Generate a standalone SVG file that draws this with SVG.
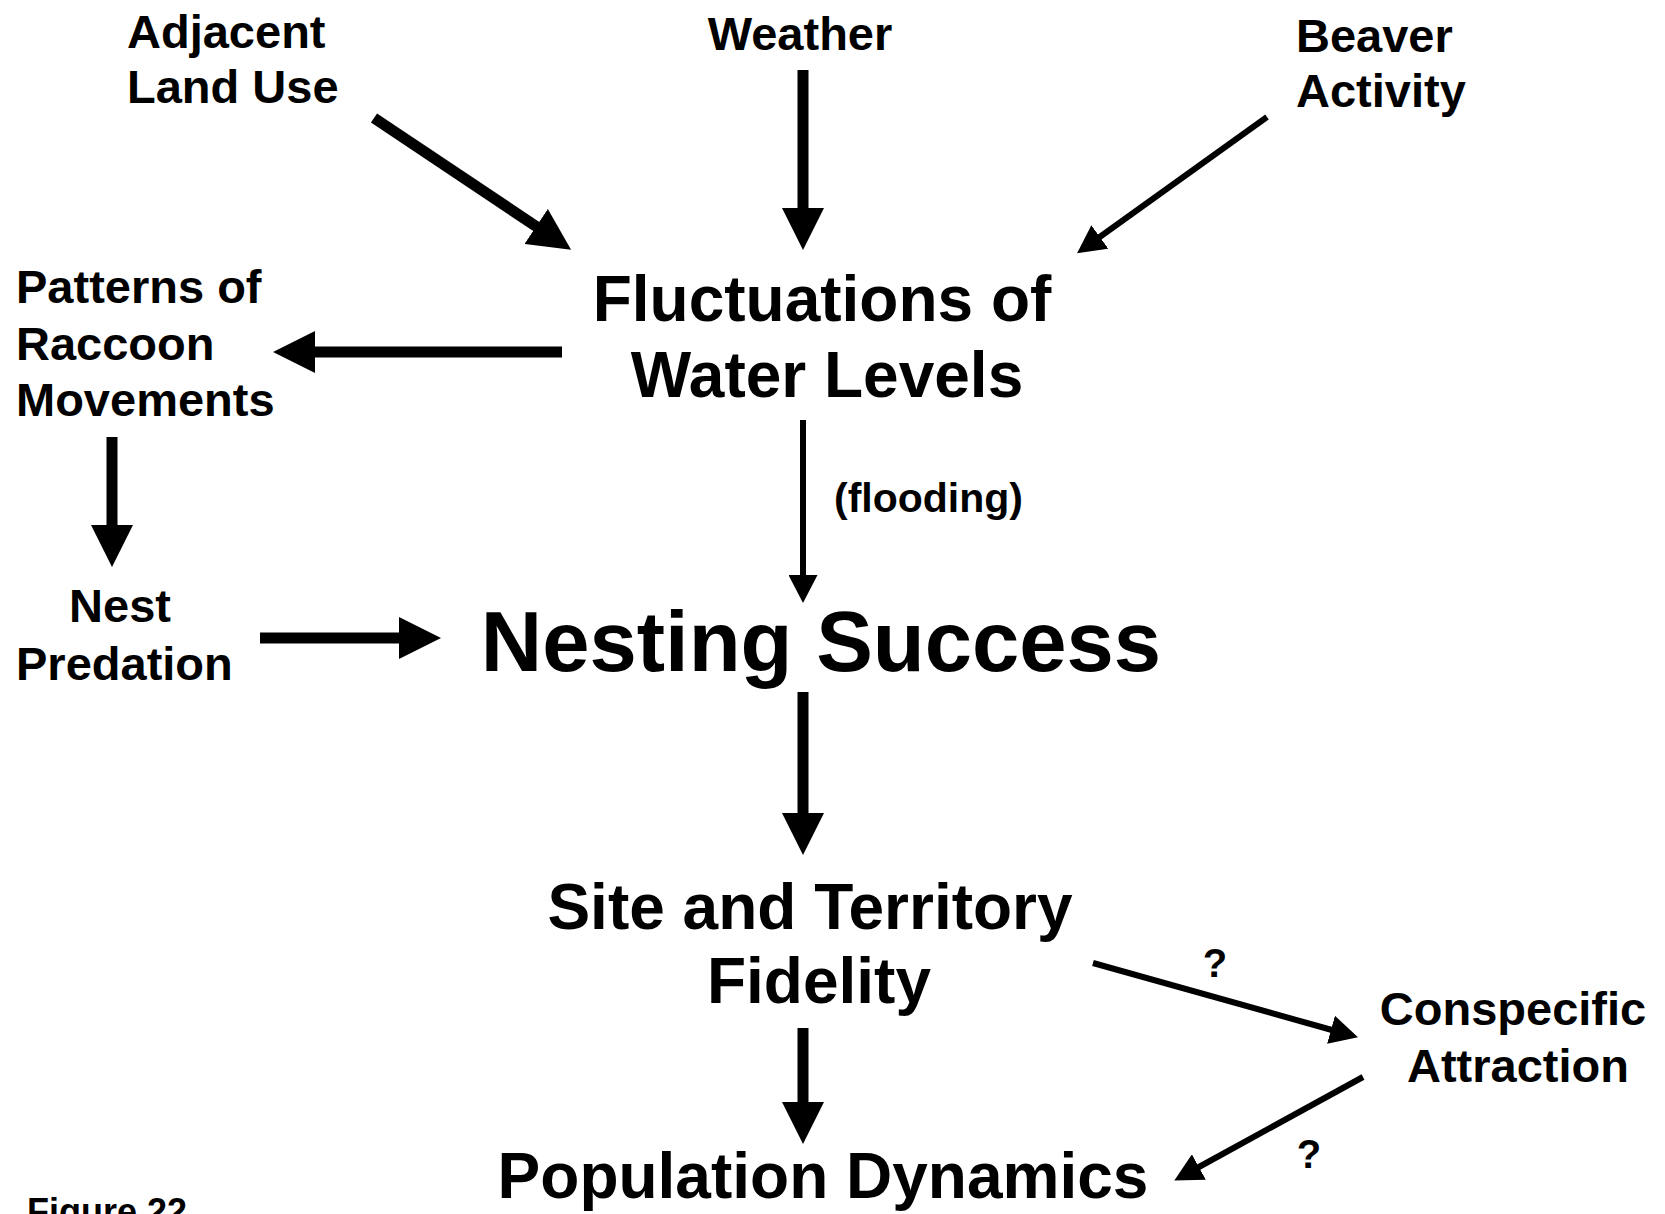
<svg xmlns="http://www.w3.org/2000/svg" width="1665" height="1214" viewBox="0 0 1665 1214">
<style>
text{font-family:"Liberation Sans",Arial,Helvetica,sans-serif;font-weight:bold;fill:#000}
.s{font-size:47px}
.m{font-size:64px}
.l{font-size:85px}
.f{font-size:41px}
.q{font-size:40px}
.c{text-anchor:middle}
.thick{stroke:#000;stroke-width:11;fill:none;marker-end:url(#hk)}
.thin{stroke:#000;stroke-width:6;fill:none;marker-end:url(#hn)}
</style>
<defs>
<marker id="hk" markerUnits="userSpaceOnUse" markerWidth="42" markerHeight="42" viewBox="0 0 42 42" refX="1" refY="21" orient="auto">
<path d="M0,0 L42,21 L0,42 Z" fill="#000"/>
</marker>
<marker id="hn" markerUnits="userSpaceOnUse" markerWidth="28" markerHeight="29" viewBox="0 0 28 29" refX="1" refY="14.5" orient="auto">
<path d="M0,0 L28,14.5 L0,29 Z" fill="#000"/>
</marker>
</defs>
<rect width="1665" height="1214" fill="#fff"/>
<g id="connectors">
<line class="thick" x1="374" y1="118" x2="537" y2="227"/>
<line class="thick" x1="803" y1="70" x2="803" y2="209"/>
<line class="thin" x1="1267" y1="117" x2="1099" y2="237.5"/>
<line class="thick" x1="562" y1="352" x2="314" y2="352"/>
<line class="thick" x1="112" y1="437" x2="112" y2="526"/>
<line class="thick" x1="260" y1="638" x2="400" y2="638"/>
<line class="thin" x1="803" y1="420" x2="803" y2="576"/>
<line class="thick" x1="803" y1="692" x2="803" y2="814"/>
<line class="thick" x1="803" y1="1028" x2="803" y2="1103"/>
<line class="thin" x1="1093" y1="963" x2="1332" y2="1030"/>
<line class="thin" x1="1363" y1="1077" x2="1198" y2="1167.5"/>
</g>
<g id="adjacent"><text class="s" x="127" y="48">Adjacent</text><text class="s" x="127" y="103">Land Use</text></g>
<g id="weather"><text class="s c" x="800" y="50">Weather</text></g>
<g id="beaver"><text class="s" x="1296" y="52">Beaver</text><text class="s" x="1296" y="107">Activity</text></g>
<g id="fluctuations"><text class="m c" x="822" y="321">Fluctuations of</text><text class="m c" x="827" y="397">Water Levels</text></g>
<g id="raccoon"><text class="s" x="16" y="303">Patterns of</text><text class="s" x="16" y="360">Raccoon</text><text class="s" x="16" y="416">Movements</text></g>
<g id="flooding"><text class="f" x="834" y="512">(flooding)</text></g>
<g id="predation"><text class="s c" x="120" y="622">Nest</text><text class="s" x="16" y="680">Predation</text></g>
<g id="nesting"><text class="l c" x="821" y="671">Nesting Success</text></g>
<g id="fidelity"><text class="m c" x="810" y="929">Site and Territory</text><text class="m c" x="819" y="1003">Fidelity</text></g>
<g id="conspecific"><text class="s c" x="1513" y="1025">Conspecific</text><text class="s c" x="1518" y="1082">Attraction</text></g>
<g id="q1"><text class="q c" x="1215" y="977">?</text></g>
<g id="q2"><text class="q c" x="1309" y="1168">?</text></g>
<g id="population"><text class="m c" x="823" y="1198">Population Dynamics</text></g>
<g id="caption"><text x="27" y="1224" style="font-size:36px">Figure 22</text></g>
</svg>
